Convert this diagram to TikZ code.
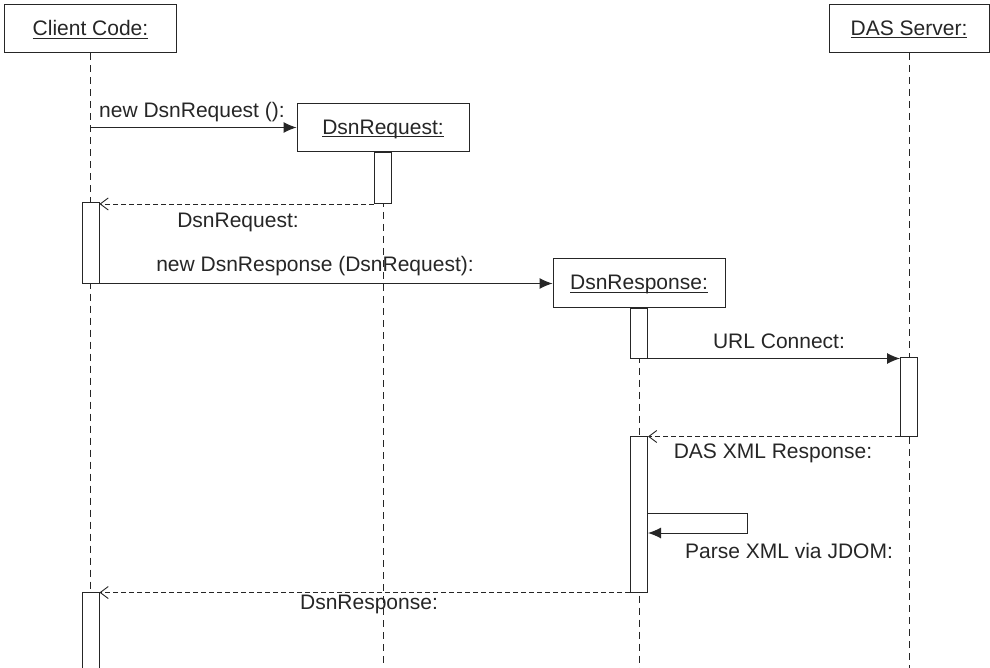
\documentclass[tikz,border=0pt]{standalone}
\usepackage{fontspec}
\setmainfont{Liberation Sans}
\usetikzlibrary{arrows.meta}
\definecolor{lc}{HTML}{262626}
\newcommand\myul[1]{\setbox0\hbox{#1}\rlap{\rule[-2.8pt]{\wd0}{0.9pt}}\box0}
\begin{document}
\begin{tikzpicture}[x=1pt,y=-1pt,
  every node/.style={font=\fontsize{21}{25}\selectfont, text=lc},
  obj/.style={draw=lc, line width=1pt, fill=white, minimum height=48pt, inner sep=0pt, text height=15pt, text depth=1pt},
  bar/.style={draw=lc, line width=1pt, fill=white, minimum width=17pt, inner sep=0pt},
  life/.style={draw=lc, line width=0.9pt, dash pattern=on 7pt off 5pt},
  call/.style={draw=lc, line width=1pt, -{Latex[length=13pt,width=11pt]}},
  ret/.style={draw=lc, line width=0.9pt, dash pattern=on 5pt off 3pt, -{Straight Barb[length=8pt,width=12pt]}},
  lbl/.style={anchor=base, inner sep=0pt}]
\useasboundingbox (0,0) rectangle (990,668);
\coordinate (bot) at (0,672);
% objects
\node[obj, minimum width=172pt] (cc) at (90.5,29) {\myul{Client Code:}};
\node[obj, minimum width=160pt] (das) at (909,28.5) {\myul{DAS Server:}};
\node[obj, minimum width=172pt] (rq) at (383,127.5) {\myul{DsnRequest:}};
\node[obj, minimum width=172pt] (rs) at (639,283) {\myul{DsnResponse:}};
% lifelines
\draw[life] (cc.south) -- (cc.south |- bot);
\draw[life] (rq.south) -- (rq.south |- bot);
\draw[life] (rs.south) -- (rs.south |- bot);
\draw[life] (das.south) -- (das.south |- bot);
% activation bars
\node[bar, minimum height=80pt] (cb1) at (90.5,243) {};
\node[bar, minimum height=80pt, anchor=north] (cb2) at (90.5,592) {};
\node[bar, minimum height=51pt, anchor=north] (rqb) at (rq.south) {};
\node[bar, minimum height=50pt, anchor=north] (rsb1) at (rs.south) {};
\node[bar, minimum height=79pt] (dasb) at (909,396.5) {};
\node[bar, minimum height=156pt] (rsb2) at (639,514) {};
% messages
\draw[call] (cc.south |- rq.west) -- (rq.west);
\node[lbl] (l1) at (192,118) {new DsnRequest ():};
\draw[ret] (rqb.south west) -- (rqb.south west -| cb1.east);
\node[lbl] (l2) at (238,228) {DsnRequest:};
\draw[call] (cb1.south east) -- (cb1.south east -| rs.west);
\node[lbl] (l3) at (315,272) {new DsnResponse (DsnRequest):};
\draw[call] (rsb1.south east) -- (rsb1.south east -| dasb.west);
\node[lbl] (l4) at (779,348) {URL Connect:};
\draw[ret] (dasb.south west) -- (dasb.south west -| rsb2.east);
\node[lbl] (l5) at (773,458) {DAS XML Response:};
\coordinate (s1) at (747,513);
\coordinate (s2) at (747,533);
\draw[call] (rsb2.east |- s1) -- (s1) -- (s2) -- (rsb2.east |- s2);
\node[lbl] (l6) at (789,558) {Parse XML via JDOM:};
\draw[ret] (rsb2.south west) -- (rsb2.south west -| cb2.east);
\node[lbl] (l7) at (369,609) {DsnResponse:};
\end{tikzpicture}
\end{document}
